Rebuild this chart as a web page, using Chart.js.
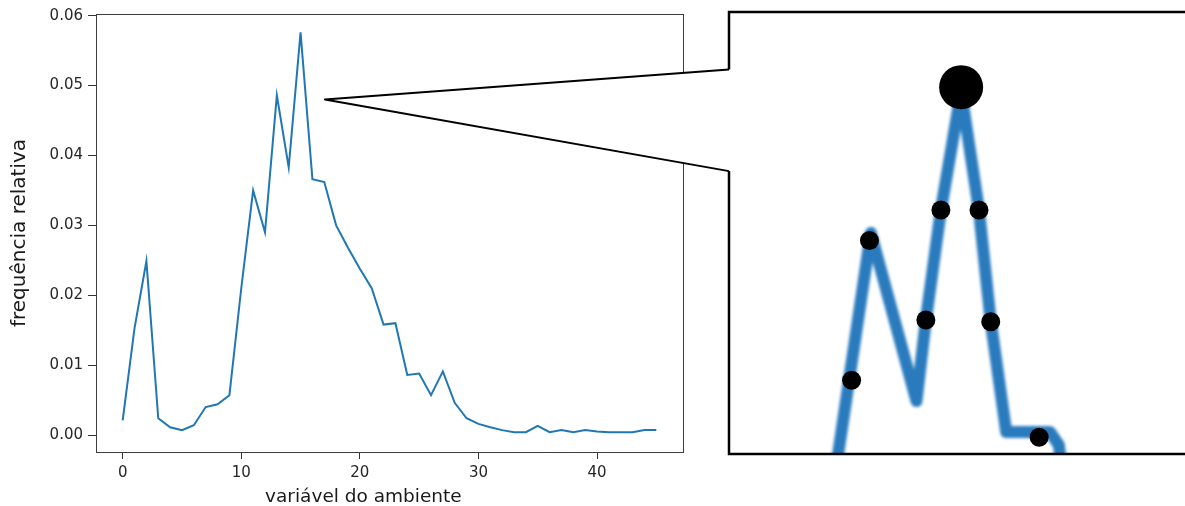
<!DOCTYPE html>
<html>
<head>
<meta charset="utf-8">
<script src="https://cdn.jsdelivr.net/npm/chart.js@4.4.1/dist/chart.umd.min.js"></script>
<style>
  html, body { margin: 0; padding: 0; background: #fff; }
  #stage { position: relative; width: 1185px; height: 506px; overflow: hidden; }
  #stage canvas { position: absolute; top: 0; }
  #main { left: 0; }
  #inset { left: 728px; }
  #overlay { left: 0; pointer-events: none; }
</style>
</head>
<body>
<div id="stage">
  <canvas id="main" width="700" height="506"></canvas>
  <canvas id="inset" width="470" height="506"></canvas>
  <canvas id="overlay" width="1185" height="506"></canvas>
</div>
<script>
// ---- main chart data ----
const envValues = [0, 1, 2, 3, 4, 5, 6, 7, 8, 9, 10, 11, 12, 13, 14, 15, 16, 17, 18, 19, 20, 21, 22,
  23, 24, 25, 26, 27, 28, 29, 30, 31, 32, 33, 34, 35, 36, 37, 38, 39, 40, 41, 42, 43, 44, 45];
const relFreq = [0.0021, 0.0153, 0.0249, 0.0024, 0.0011, 0.0007, 0.0014, 0.0040, 0.0044, 0.0057,
  0.0210, 0.0350, 0.0290, 0.0486, 0.0383, 0.0576, 0.0366, 0.0362, 0.0300, 0.0268, 0.0238, 0.0210,
  0.0158, 0.0160, 0.0086, 0.0088, 0.0057, 0.0091, 0.0046, 0.0024, 0.0016, 0.0011, 0.0007, 0.0004,
  0.0004, 0.0013, 0.0004, 0.0007, 0.0004, 0.0007, 0.0005, 0.0004, 0.0004, 0.0004, 0.0007, 0.0007];
const xTicks = [0, 10, 20, 30, 40];
const yTicks = [0, 0.01, 0.02, 0.03, 0.04, 0.05, 0.06];
const xLabel = 'variável do ambiente';
const yLabel = 'frequência relativa';

// ---- zoomed sketch on the right, in its own 0..100 units ----
const insetLineX = [22.6, 30.4, 40.1, 42.1, 45.3, 49.6, 53.4, 55.9, 59.2, 68.5, 70.4, 71.3];
const insetLineY = [-6, 50, 12, 30.3, 55.2, 82, 55.2, 30, 5, 5, 2, -6];
const insetDotX = [26.3, 30.1, 42.1, 45.3, 49.6, 53.4, 55.9, 66.2];
const insetDotY = [16.7, 48.3, 30.3, 55.2, 83.0, 55.2, 29.9, 3.8];

// callout: apex in main-chart units, entry points on the inset's left edge (inset units)
const calloutApex = [17.05, 0.048];
const calloutInsetY = [87, 64];

const FONT = 'DejaVu Sans';

// box round the plot + the x label (sits a bit left of centre in the original)
const frame = {
  id: 'frame',
  afterDraw(chart, args, opts) {
    const { ctx, chartArea: a, scales } = chart;
    ctx.save();
    ctx.strokeStyle = opts.color;
    ctx.lineWidth = opts.width;
    ctx.strokeRect(Math.round(a.left) + 0.5, Math.round(a.top) + 0.5,
      Math.round(a.right - a.left), Math.round(a.bottom - a.top));
    ctx.fillStyle = '#1a1a1a';
    ctx.font = '18.5px "DejaVu Sans"';
    ctx.textAlign = 'center';
    ctx.textBaseline = 'alphabetic';
    ctx.fillText(xLabel, scales.x.getPixelForValue(opts.labelAt), chart.height - 4);
    ctx.restore();
  }
};

const mainChart = new Chart(document.getElementById('main'), {
  type: 'line',
  data: {
    datasets: [{
      data: envValues.map((x, i) => ({ x, y: relFreq[i] })),
      borderColor: '#1f77b4', borderWidth: 2, pointRadius: 0, tension: 0
    }]
  },
  options: {
    responsive: false, animation: false,
    layout: { autoPadding: false, padding: { top: 14, right: 17, left: 0, bottom: 0 } },
    plugins: {
      legend: { display: false }, tooltip: { enabled: false },
      frame: { color: '#3d3d3d', width: 1, labelAt: 20.3 }
    },
    scales: {
      x: {
        type: 'linear', min: -2.25, max: 47.25,
        afterBuildTicks: s => { s.ticks = xTicks.map(v => ({ value: v })); },
        afterFit: s => { s.height = 54; },
        grid: { drawOnChartArea: false, drawTicks: true, tickLength: 7, tickColor: '#333' },
        border: { display: false },
        ticks: { color: '#262626', font: { family: FONT, size: 15 }, padding: 5, maxRotation: 0, callback: v => v }
      },
      y: {
        type: 'linear', min: -0.00243, max: 0.06024,
        afterBuildTicks: s => { s.ticks = yTicks.map(v => ({ value: v })); },
        afterFit: s => { s.width = 96; },
        grid: { drawOnChartArea: false, drawTicks: true, tickLength: 8, tickColor: '#333' },
        border: { display: false },
        ticks: { color: '#262626', font: { family: FONT, size: 15 }, padding: 5, callback: v => v.toFixed(2) },
        title: { display: true, text: yLabel, color: '#1a1a1a',
          font: { family: FONT, size: 20, lineHeight: 1 }, padding: { top: 10, bottom: 0 } }
      }
    }
  },
  plugins: [frame]
});

// soft edge on the thick sketch line
const softLine = {
  id: 'softLine',
  beforeDatasetDraw(chart, args) {
    if (chart.data.datasets[args.index].blur) {
      chart.ctx.save();
      chart.ctx.filter = 'blur(1.4px)';
    }
  },
  afterDatasetDraw(chart, args) {
    if (chart.data.datasets[args.index].blur) chart.ctx.restore();
  }
};

const peakDot = insetDotY.indexOf(Math.max(...insetDotY));

const insetChart = new Chart(document.getElementById('inset'), {
  type: 'line',
  data: {
    datasets: [
      {
        data: insetDotX.map((x, i) => ({ x, y: insetDotY[i] })),
        showLine: false, pointBackgroundColor: '#000', pointBorderWidth: 0,
        pointRadius: c => c.dataIndex === peakDot ? 22 : 9.5, clip: false
      },
      {
        data: insetLineX.map((x, i) => ({ x, y: insetLineY[i] })),
        borderColor: '#2a7bbd', borderWidth: 12, borderJoinStyle: 'round',
        pointRadius: 0, tension: 0, clip: 0, blur: true
      }
    ]
  },
  options: {
    responsive: false, animation: false,
    layout: { autoPadding: false, padding: { top: 12, bottom: 52, left: 0, right: 0 } },
    plugins: { legend: { display: false }, tooltip: { enabled: false } },
    scales: {
      x: { type: 'linear', min: 0, max: 100, display: false },
      y: { type: 'linear', min: 0, max: 100, display: false }
    }
  },
  plugins: [softLine]
});

function drawOverlay() {
  const ctx = document.getElementById('overlay').getContext('2d');
  const ox = document.getElementById('inset').offsetLeft;
  const ia = insetChart.chartArea;
  const left = ox + ia.left + 1, right = ox + ia.right + 10;
  const top = ia.top, bottom = ia.bottom;
  const yA = insetChart.scales.y.getPixelForValue(calloutInsetY[0]);
  const yB = insetChart.scales.y.getPixelForValue(calloutInsetY[1]);
  const px = mainChart.scales.x.getPixelForValue(calloutApex[0]);
  const py = mainChart.scales.y.getPixelForValue(calloutApex[1]);

  ctx.fillStyle = '#fff';
  ctx.beginPath();
  ctx.moveTo(px, py); ctx.lineTo(left, yA); ctx.lineTo(left, yB); ctx.closePath();
  ctx.fill();

  ctx.strokeStyle = '#000';
  ctx.lineWidth = 2;
  ctx.lineJoin = 'round';
  ctx.beginPath();
  ctx.moveTo(left, yA); ctx.lineTo(px, py); ctx.lineTo(left, yB);
  ctx.stroke();

  ctx.lineWidth = 2.5;
  ctx.lineJoin = 'miter';
  ctx.beginPath();
  ctx.moveTo(right, top); ctx.lineTo(left, top); ctx.lineTo(left, yA);
  ctx.moveTo(left, yB); ctx.lineTo(left, bottom); ctx.lineTo(right, bottom);
  ctx.stroke();
}
drawOverlay();
</script>
</body>
</html>
